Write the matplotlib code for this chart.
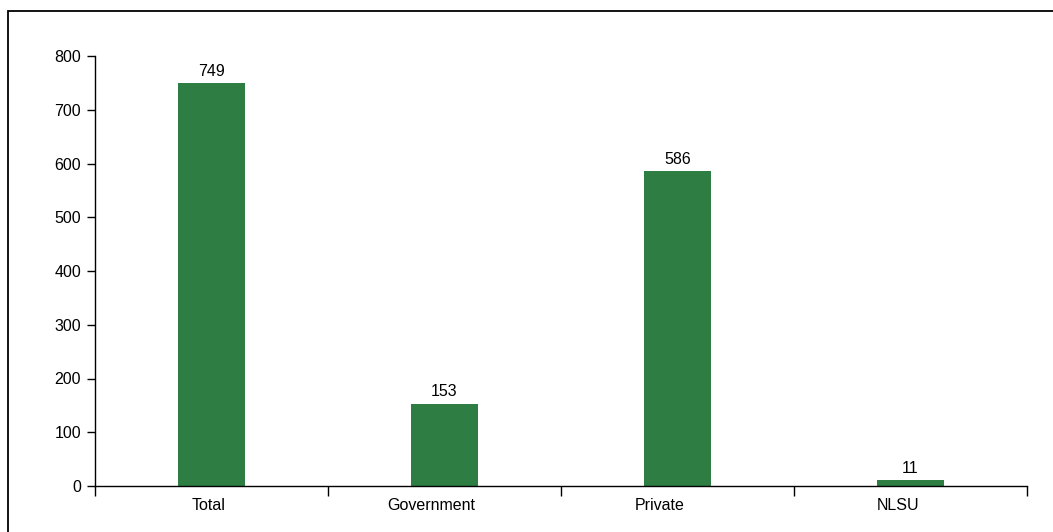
import matplotlib
matplotlib.use("Agg")
import matplotlib.pyplot as plt
from matplotlib.patches import Rectangle
from matplotlib import font_manager
from matplotlib.transforms import offset_copy

categories = ["Total", "Government", "Private", "NLSU"]
values = [749, 153, 586, 11]
yticks = [0, 100, 200, 300, 400, 500, 600, 700, 800]

names = {f.name for f in font_manager.fontManager.ttflist}
fam = ["Liberation Sans Narrow", "Liberation Sans", "DejaVu Sans"]
fam = [f for f in fam if f in names] or ["DejaVu Sans"]
plt.rcParams['font.family'] = fam

bar_color = "#2e7d42"
# the original category labels sit a little left of their bars (pixels)
label_shift = [-3, -13.5, -17.5, -12.5]

fig = plt.figure(figsize=(10.53, 5.32), dpi=100)
ax = fig.add_axes([95 / 1053, 46 / 532, 932 / 1053, 430 / 532])

x = list(range(len(categories)))
bars = ax.bar(x, values, width=0.285, color=bar_color)
for b, v in zip(bars, values):
    ax.text(b.get_x() + b.get_width() / 2, v + 8, str(v), ha='center', va='bottom', fontsize=11.5)

ax.set_xlim(-0.5, len(categories) - 0.5)
ax.set_ylim(0, 800)
ax.set_yticks(yticks)
ax.set_yticklabels([str(t) for t in yticks], fontsize=11.5)

# category labels centered, ticks on the boundaries
ax.set_xticks([i - 0.5 for i in range(len(categories) + 1)])
ax.set_xticklabels([])
ax.tick_params(axis='x', length=7, width=1, direction='out')
ax.tick_params(axis='y', length=6, width=1, direction='out', pad=4)
for i, c in enumerate(categories):
    tr = offset_copy(ax.transData, fig=fig, x=label_shift[i] * 0.72, y=0, units='points')
    ax.text(i, -22, c, ha='center', va='top', fontsize=11.5, transform=tr)

ax.spines['top'].set_visible(False)
ax.spines['right'].set_visible(False)
ax.spines['left'].set_linewidth(1)
ax.spines['bottom'].set_linewidth(1)

# outer frame, running off the right and bottom edges
frame = Rectangle((8 / 1053, -0.1), 1.2, 1.1 - 11 / 532, transform=fig.transFigure,
                  fill=False, edgecolor='black', linewidth=1.3, clip_on=False)
fig.patches.append(frame)

fig.savefig("out.png", dpi=100)
